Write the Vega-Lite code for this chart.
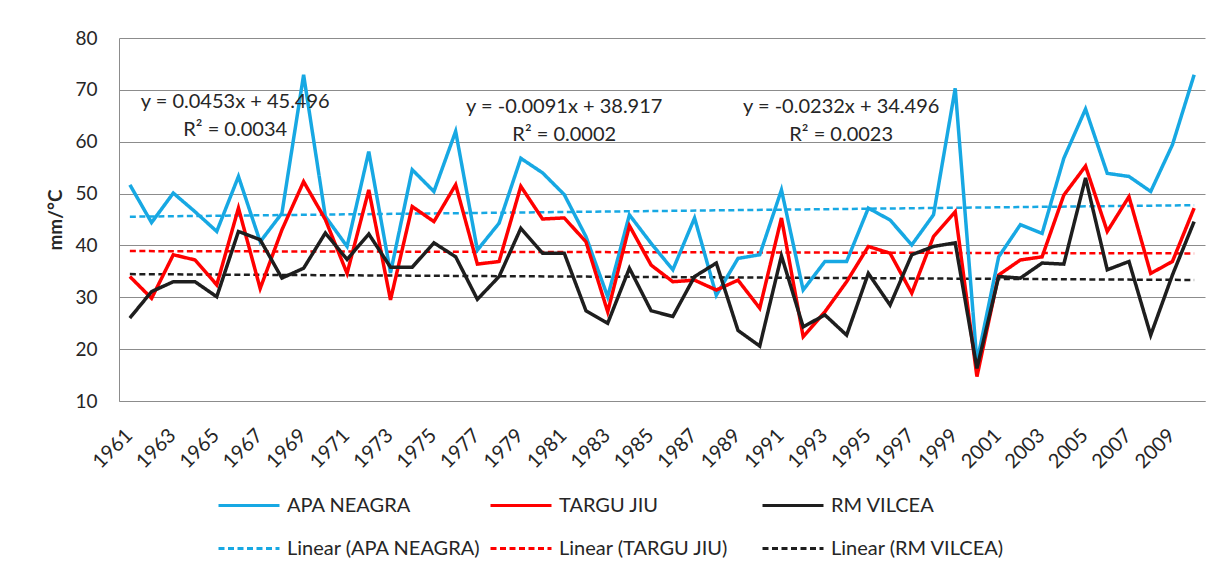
{
  "$schema": "https://vega.github.io/schema/vega-lite/v6.json",
  "width": 1086,
  "height": 363,
  "autosize": "none",
  "padding": {"left": 119, "top": 38, "right": 23, "bottom": 173},
  "background": "white",
  "config": {"view": {"stroke": null}, "font": "Lato", "text": {"font": "Lato"}},
  "datasets": {
    "series": [
      {"year": 1961, "station": "APA NEAGRA", "value": 51.7}, {"year": 1961, "station": "TARGU JIU", "value": 34.0}, {"year": 1961, "station": "RM VILCEA", "value": 26.0},
      {"year": 1962, "station": "APA NEAGRA", "value": 44.4}, {"year": 1962, "station": "TARGU JIU", "value": 29.8}, {"year": 1962, "station": "RM VILCEA", "value": 31.1},
      {"year": 1963, "station": "APA NEAGRA", "value": 50.1}, {"year": 1963, "station": "TARGU JIU", "value": 38.2}, {"year": 1963, "station": "RM VILCEA", "value": 33.0},
      {"year": 1964, "station": "APA NEAGRA", "value": 46.5}, {"year": 1964, "station": "TARGU JIU", "value": 37.2}, {"year": 1964, "station": "RM VILCEA", "value": 33.0},
      {"year": 1965, "station": "APA NEAGRA", "value": 42.7}, {"year": 1965, "station": "TARGU JIU", "value": 32.4}, {"year": 1965, "station": "RM VILCEA", "value": 30.1},
      {"year": 1966, "station": "APA NEAGRA", "value": 53.3}, {"year": 1966, "station": "TARGU JIU", "value": 47.2}, {"year": 1966, "station": "RM VILCEA", "value": 42.7},
      {"year": 1967, "station": "APA NEAGRA", "value": 40.7}, {"year": 1967, "station": "TARGU JIU", "value": 31.7}, {"year": 1967, "station": "RM VILCEA", "value": 41.1},
      {"year": 1968, "station": "APA NEAGRA", "value": 46.2}, {"year": 1968, "station": "TARGU JIU", "value": 43.0}, {"year": 1968, "station": "RM VILCEA", "value": 33.7},
      {"year": 1969, "station": "APA NEAGRA", "value": 72.9}, {"year": 1969, "station": "TARGU JIU", "value": 52.3}, {"year": 1969, "station": "RM VILCEA", "value": 35.6},
      {"year": 1970, "station": "APA NEAGRA", "value": 45.6}, {"year": 1970, "station": "TARGU JIU", "value": 45.0}, {"year": 1970, "station": "RM VILCEA", "value": 42.4},
      {"year": 1971, "station": "APA NEAGRA", "value": 39.8}, {"year": 1971, "station": "TARGU JIU", "value": 34.6}, {"year": 1971, "station": "RM VILCEA", "value": 37.3},
      {"year": 1972, "station": "APA NEAGRA", "value": 58.1}, {"year": 1972, "station": "TARGU JIU", "value": 50.7}, {"year": 1972, "station": "RM VILCEA", "value": 42.2},
      {"year": 1973, "station": "APA NEAGRA", "value": 34.7}, {"year": 1973, "station": "TARGU JIU", "value": 29.5}, {"year": 1973, "station": "RM VILCEA", "value": 35.8},
      {"year": 1974, "station": "APA NEAGRA", "value": 54.6}, {"year": 1974, "station": "TARGU JIU", "value": 47.5}, {"year": 1974, "station": "RM VILCEA", "value": 35.8},
      {"year": 1975, "station": "APA NEAGRA", "value": 50.4}, {"year": 1975, "station": "TARGU JIU", "value": 44.6}, {"year": 1975, "station": "RM VILCEA", "value": 40.5},
      {"year": 1976, "station": "APA NEAGRA", "value": 62.0}, {"year": 1976, "station": "TARGU JIU", "value": 51.7}, {"year": 1976, "station": "RM VILCEA", "value": 37.8},
      {"year": 1977, "station": "APA NEAGRA", "value": 39.1}, {"year": 1977, "station": "TARGU JIU", "value": 36.4}, {"year": 1977, "station": "RM VILCEA", "value": 29.6},
      {"year": 1978, "station": "APA NEAGRA", "value": 44.3}, {"year": 1978, "station": "TARGU JIU", "value": 36.9}, {"year": 1978, "station": "RM VILCEA", "value": 34.0},
      {"year": 1979, "station": "APA NEAGRA", "value": 56.8}, {"year": 1979, "station": "TARGU JIU", "value": 51.4}, {"year": 1979, "station": "RM VILCEA", "value": 43.3},
      {"year": 1980, "station": "APA NEAGRA", "value": 54.0}, {"year": 1980, "station": "TARGU JIU", "value": 45.1}, {"year": 1980, "station": "RM VILCEA", "value": 38.5},
      {"year": 1981, "station": "APA NEAGRA", "value": 49.8}, {"year": 1981, "station": "TARGU JIU", "value": 45.3}, {"year": 1981, "station": "RM VILCEA", "value": 38.5},
      {"year": 1982, "station": "APA NEAGRA", "value": 41.7}, {"year": 1982, "station": "TARGU JIU", "value": 40.7}, {"year": 1982, "station": "RM VILCEA", "value": 27.4},
      {"year": 1983, "station": "APA NEAGRA", "value": 30.1}, {"year": 1983, "station": "TARGU JIU", "value": 27.2}, {"year": 1983, "station": "RM VILCEA", "value": 25.0},
      {"year": 1984, "station": "APA NEAGRA", "value": 45.9}, {"year": 1984, "station": "TARGU JIU", "value": 43.8}, {"year": 1984, "station": "RM VILCEA", "value": 35.6},
      {"year": 1985, "station": "APA NEAGRA", "value": 40.4}, {"year": 1985, "station": "TARGU JIU", "value": 36.2}, {"year": 1985, "station": "RM VILCEA", "value": 27.4},
      {"year": 1986, "station": "APA NEAGRA", "value": 35.3}, {"year": 1986, "station": "TARGU JIU", "value": 33.0}, {"year": 1986, "station": "RM VILCEA", "value": 26.3},
      {"year": 1987, "station": "APA NEAGRA", "value": 45.3}, {"year": 1987, "station": "TARGU JIU", "value": 33.3}, {"year": 1987, "station": "RM VILCEA", "value": 34.0},
      {"year": 1988, "station": "APA NEAGRA", "value": 30.4}, {"year": 1988, "station": "TARGU JIU", "value": 31.4}, {"year": 1988, "station": "RM VILCEA", "value": 36.6},
      {"year": 1989, "station": "APA NEAGRA", "value": 37.5}, {"year": 1989, "station": "TARGU JIU", "value": 33.3}, {"year": 1989, "station": "RM VILCEA", "value": 23.6},
      {"year": 1990, "station": "APA NEAGRA", "value": 38.2}, {"year": 1990, "station": "TARGU JIU", "value": 27.9}, {"year": 1990, "station": "RM VILCEA", "value": 20.6},
      {"year": 1991, "station": "APA NEAGRA", "value": 50.7}, {"year": 1991, "station": "TARGU JIU", "value": 45.3}, {"year": 1991, "station": "RM VILCEA", "value": 38.0},
      {"year": 1992, "station": "APA NEAGRA", "value": 31.4}, {"year": 1992, "station": "TARGU JIU", "value": 22.4}, {"year": 1992, "station": "RM VILCEA", "value": 24.3},
      {"year": 1993, "station": "APA NEAGRA", "value": 36.9}, {"year": 1993, "station": "TARGU JIU", "value": 27.2}, {"year": 1993, "station": "RM VILCEA", "value": 26.6},
      {"year": 1994, "station": "APA NEAGRA", "value": 36.9}, {"year": 1994, "station": "TARGU JIU", "value": 33.0}, {"year": 1994, "station": "RM VILCEA", "value": 22.7},
      {"year": 1995, "station": "APA NEAGRA", "value": 47.2}, {"year": 1995, "station": "TARGU JIU", "value": 39.8}, {"year": 1995, "station": "RM VILCEA", "value": 34.6},
      {"year": 1996, "station": "APA NEAGRA", "value": 44.9}, {"year": 1996, "station": "TARGU JIU", "value": 38.5}, {"year": 1996, "station": "RM VILCEA", "value": 28.5},
      {"year": 1997, "station": "APA NEAGRA", "value": 40.1}, {"year": 1997, "station": "TARGU JIU", "value": 30.8}, {"year": 1997, "station": "RM VILCEA", "value": 38.2},
      {"year": 1998, "station": "APA NEAGRA", "value": 45.9}, {"year": 1998, "station": "TARGU JIU", "value": 41.7}, {"year": 1998, "station": "RM VILCEA", "value": 39.8},
      {"year": 1999, "station": "APA NEAGRA", "value": 70.3}, {"year": 1999, "station": "TARGU JIU", "value": 46.5}, {"year": 1999, "station": "RM VILCEA", "value": 40.5},
      {"year": 2000, "station": "APA NEAGRA", "value": 17.5}, {"year": 2000, "station": "TARGU JIU", "value": 14.7}, {"year": 2000, "station": "RM VILCEA", "value": 16.3},
      {"year": 2001, "station": "APA NEAGRA", "value": 37.8}, {"year": 2001, "station": "TARGU JIU", "value": 34.3}, {"year": 2001, "station": "RM VILCEA", "value": 34.0},
      {"year": 2002, "station": "APA NEAGRA", "value": 44.0}, {"year": 2002, "station": "TARGU JIU", "value": 37.2}, {"year": 2002, "station": "RM VILCEA", "value": 33.7},
      {"year": 2003, "station": "APA NEAGRA", "value": 42.3}, {"year": 2003, "station": "TARGU JIU", "value": 37.8}, {"year": 2003, "station": "RM VILCEA", "value": 36.6},
      {"year": 2004, "station": "APA NEAGRA", "value": 56.8}, {"year": 2004, "station": "TARGU JIU", "value": 49.7}, {"year": 2004, "station": "RM VILCEA", "value": 36.4},
      {"year": 2005, "station": "APA NEAGRA", "value": 66.3}, {"year": 2005, "station": "TARGU JIU", "value": 55.3}, {"year": 2005, "station": "RM VILCEA", "value": 53.0},
      {"year": 2006, "station": "APA NEAGRA", "value": 53.9}, {"year": 2006, "station": "TARGU JIU", "value": 42.7}, {"year": 2006, "station": "RM VILCEA", "value": 35.3},
      {"year": 2007, "station": "APA NEAGRA", "value": 53.3}, {"year": 2007, "station": "TARGU JIU", "value": 49.4}, {"year": 2007, "station": "RM VILCEA", "value": 36.9},
      {"year": 2008, "station": "APA NEAGRA", "value": 50.4}, {"year": 2008, "station": "TARGU JIU", "value": 34.6}, {"year": 2008, "station": "RM VILCEA", "value": 22.7},
      {"year": 2009, "station": "APA NEAGRA", "value": 59.4}, {"year": 2009, "station": "TARGU JIU", "value": 36.9}, {"year": 2009, "station": "RM VILCEA", "value": 34.3},
      {"year": 2010, "station": "APA NEAGRA", "value": 72.9}, {"year": 2010, "station": "TARGU JIU", "value": 47.2}, {"year": 2010, "station": "RM VILCEA", "value": 44.6}
    ],
    "trend": [
      {"year": 1961, "station": "Linear (APA NEAGRA)", "value": 45.54},
      {"year": 2010, "station": "Linear (APA NEAGRA)", "value": 47.76},
      {"year": 1961, "station": "Linear (TARGU JIU)", "value": 38.91},
      {"year": 2010, "station": "Linear (TARGU JIU)", "value": 38.46},
      {"year": 1961, "station": "Linear (RM VILCEA)", "value": 34.47},
      {"year": 2010, "station": "Linear (RM VILCEA)", "value": 33.34}
    ],
    "notes": [
      {"year": 1965.85, "value": 67.7, "label": "y = 0.0453x + 45.496"},
      {"year": 1965.85, "value": 62.2, "label": "R² = 0.0034"},
      {"year": 1981.0, "value": 66.6, "label": "y = -0.0091x + 38.917"},
      {"year": 1981.0, "value": 61.2, "label": "R² = 0.0002"},
      {"year": 1993.75, "value": 66.7, "label": "y = -0.0232x + 34.496"},
      {"year": 1993.75, "value": 61.2, "label": "R² = 0.0023"}
    ]
  },
  "encoding": {
    "x": {
      "field": "year",
      "type": "quantitative",
      "scale": {"domain": [1960.5, 2010.5], "nice": false, "zero": false},
      "axis": {
        "title": null,
        "values": [1961, 1963, 1965, 1967, 1969, 1971, 1973, 1975, 1977, 1979, 1981, 1983, 1985, 1987, 1989, 1991, 1993, 1995, 1997, 1999, 2001, 2003, 2005, 2007, 2009],
        "format": "d",
        "labelAngle": -45,
        "labelAlign": "right",
        "labelBaseline": "middle",
        "labelPadding": 31,
        "labelOffset": -1,
        "labelOverlap": false,
        "labelFlush": false,
        "labelBound": false,
        "labelFont": "Lato",
        "labelFontSize": 20,
        "labelColor": "#262626",
        "ticks": false,
        "grid": false,
        "domain": true,
        "domainColor": "#8C8C8C",
        "domainWidth": 1
      }
    },
    "y": {
      "field": "value",
      "type": "quantitative",
      "scale": {"domain": [10, 80], "nice": false, "zero": false},
      "axis": {
        "title": "mm/°C",
        "titleFont": "Lato",
        "titleFontSize": 19,
        "titleFontWeight": "bold",
        "titleColor": "#262626",
        "titlePadding": 9,
        "values": [10, 20, 30, 40, 50, 60, 70, 80],
        "labelFont": "Lato",
        "labelFontSize": 19,
        "labelColor": "#262626",
        "labelPadding": 22,
        "ticks": false,
        "grid": true,
        "gridColor": "#8C8C8C",
        "gridWidth": 1,
        "domain": true,
        "domainColor": "#8C8C8C",
        "domainWidth": 1
      }
    }
  },
  "layer": [
    {
      "data": {"name": "trend"},
      "mark": {"type": "line", "strokeWidth": 2.5},
      "encoding": {
        "color": {
          "field": "station",
          "type": "nominal",
          "scale": {
            "domain": ["APA NEAGRA", "TARGU JIU", "RM VILCEA", "Linear (APA NEAGRA)", "Linear (TARGU JIU)", "Linear (RM VILCEA)"],
            "range": ["#17A8E3", "#FF0000", "#1E1E1E", "#17A8E3", "#FF0000", "#1E1E1E"]
          },
          "legend": {
            "title": null,
            "orient": "none",
            "legendX": 98,
            "legendY": 446,
            "direction": "horizontal",
            "columns": 3,
            "gridAlign": "all",
            "columnPadding": 8,
            "rowPadding": 0,
            "clipHeight": 43,
            "symbolType": "stroke",
            "symbolSize": 3721,
            "symbolStrokeWidth": 3,
            "labelFont": "Lato",
            "labelFontSize": 20,
            "labelColor": "#262626",
            "labelOffset": 6,
            "labelLimit": 400
          }
        },
        "strokeDash": {
          "field": "station",
          "type": "nominal",
          "scale": {
            "domain": ["APA NEAGRA", "TARGU JIU", "RM VILCEA", "Linear (APA NEAGRA)", "Linear (TARGU JIU)", "Linear (RM VILCEA)"],
            "range": [[1, 0], [1, 0], [1, 0], [6, 3.5], [6, 3.5], [6, 3.5]]
          }
        }
      }
    },
    {
      "data": {"name": "series"},
      "mark": {"type": "line", "strokeWidth": 3.5},
      "encoding": {
        "color": {"field": "station", "type": "nominal"},
        "strokeDash": {"field": "station", "type": "nominal"}
      }
    },
    {
      "data": {"name": "notes"},
      "mark": {"type": "text", "font": "Lato", "fontSize": 20, "color": "#262626", "align": "center", "baseline": "middle"},
      "encoding": {
        "text": {"field": "label"}
      }
    }
  ]
}
